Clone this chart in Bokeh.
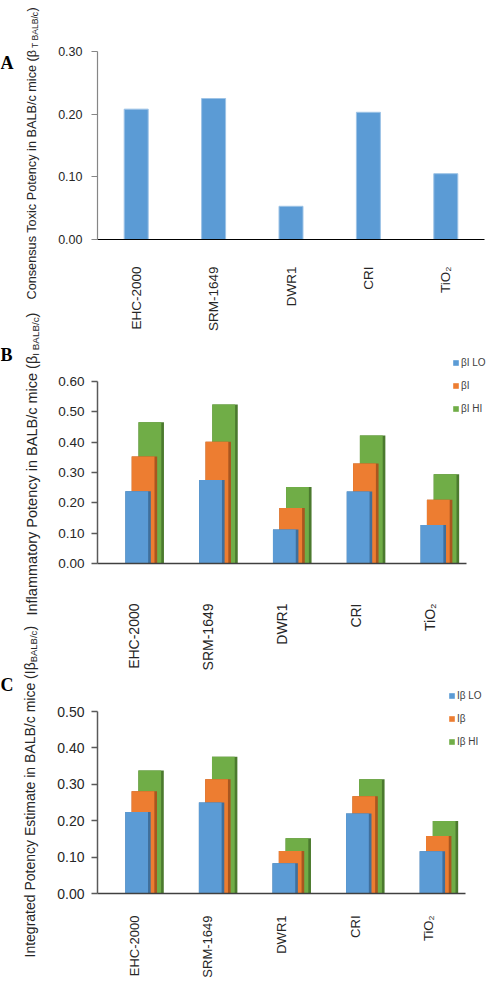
import math
from bokeh.plotting import figure
from bokeh.models import (Range1d, FactorRange, Label, Legend, LegendItem,
                          FixedTicker, NumeralTickFormatter, ColumnDataSource)
from bokeh.transform import dodge
from bokeh.layouts import column, row
from bokeh.embed import file_html
from bokeh.resources import INLINE

# ---------------- data ----------------
materials = ["EHC-2000", "SRM-1649", "DWR1", "CRI", "TiO₂"]
beta_t = [0.208, 0.225, 0.053, 0.203, 0.105]

beta_i_lo = [0.238, 0.275, 0.112, 0.237, 0.127]
beta_i = [0.353, 0.401, 0.183, 0.330, 0.210]
beta_i_hi = [0.466, 0.524, 0.252, 0.422, 0.294]

ib_lo = [0.224, 0.250, 0.083, 0.220, 0.116]
ib = [0.281, 0.314, 0.117, 0.267, 0.158]
ib_hi = [0.338, 0.376, 0.152, 0.314, 0.199]

ticks_a = [0.0, 0.1, 0.2, 0.3]
ticks_b = [0.0, 0.1, 0.2, 0.3, 0.4, 0.5, 0.6]
ticks_c = [0.0, 0.1, 0.2, 0.3, 0.4, 0.5]

legend_b = ["βI LO", "βI", "βI HI"]
legend_c = ["Iβ LO", "Iβ", "Iβ HI"]

BLUE, BLUE_D = "#5B9BD5", "#3F6F9C"
ORANGE, ORANGE_D = "#ED7D31", "#A9561F"
GREEN, GREEN_D = "#70AD47", "#4B7A2E"

FONT = "Liberation Sans"
TXT = "#262626"


def style(p, tick_size, xlab_size, standoff_x, standoff_y, axis_color, x_axis_color, ticks, lw):
    p.xgrid.visible = False
    p.ygrid.visible = False
    p.outline_line_color = None
    p.yaxis.ticker = FixedTicker(ticks=ticks)
    p.yaxis.formatter = NumeralTickFormatter(format="0.00")
    p.yaxis.axis_line_color = axis_color
    p.yaxis.axis_line_width = lw
    p.yaxis.major_tick_line_color = axis_color
    p.yaxis.major_tick_line_width = lw
    p.yaxis.major_tick_out = 6
    p.yaxis.major_tick_in = 0
    p.yaxis.minor_tick_out = 0
    p.yaxis.minor_tick_in = 0
    p.yaxis.major_label_standoff = standoff_y
    p.yaxis.major_label_text_font = FONT
    p.yaxis.major_label_text_font_size = tick_size
    p.yaxis.major_label_text_color = TXT
    p.xaxis.axis_line_color = x_axis_color
    p.xaxis.axis_line_width = lw
    p.xaxis.major_tick_out = 0
    p.xaxis.major_tick_in = 0
    p.xaxis.minor_tick_out = 0
    p.xaxis.minor_tick_in = 0
    p.xaxis.major_label_orientation = math.pi / 2
    p.xaxis.major_label_standoff = standoff_x
    p.xaxis.major_label_text_font = FONT
    p.xaxis.major_label_text_font_size = xlab_size
    p.xaxis.major_label_text_color = TXT
    p.background_fill_color = None
    p.border_fill_color = None


# ---------------- panel A ----------------
pa = figure(x_range=FactorRange(*materials), y_range=Range1d(0, 0.30),
            frame_width=387, frame_height=188,
            min_border_left=43, min_border_right=15,
            min_border_top=51, min_border_bottom=90,
            output_backend="svg", toolbar_location=None)
pa.vbar(x=materials, top=beta_t, width=0.31, fill_color=BLUE,
        line_color="#9DC3E6", line_width=1)
style(pa, "12.5px", "13.5px", 27, 9, "#868686", "#000000", ticks_a, 1.2)


# ---------------- grouped panels ----------------
def grouped(lo, mid, hi, ymax, ticks, labels,
            fl, axis_w, fw, ft, axis_h, fh, fb,
            leg_x, leg_y, tick_size, xlab_size, standoff_x):
    n = len(materials)
    centers = [i + 0.5 for i in range(n)]
    # frame is larger than the axis box (room for the legend); the axes are bounded
    p = figure(x_range=Range1d(0, n * fw / axis_w), y_range=Range1d(0, ymax * fh / axis_h),
               frame_width=fw, frame_height=fh,
               min_border_left=fl, min_border_right=0,
               min_border_top=ft, min_border_bottom=fb,
               output_backend="svg", toolbar_location=None)
    src = ColumnDataSource(dict(xc=centers, lo=lo, mid=mid, hi=hi))
    rends = {}
    for col, off, light, dark in [("hi", 0.228, GREEN, GREEN_D),
                                  ("mid", 0.136, ORANGE, ORANGE_D),
                                  ("lo", 0.050, BLUE, BLUE_D)]:
        p.vbar(x=dodge("xc", off), top=col, width=0.345,
               source=src, fill_color=dark, line_color=None)
        rends[col] = p.vbar(x=dodge("xc", off - 0.018), top=col,
                            width=0.309, source=src, fill_color=light, line_color=None)
    style(p, tick_size, xlab_size, standoff_x, 7, "#595959", "#404040", ticks, 1.5)
    p.xaxis.bounds = (0, n)
    p.yaxis.bounds = (0, ymax)
    p.xaxis.ticker = FixedTicker(ticks=centers)
    p.xaxis.major_label_overrides = {c: m for c, m in zip(centers, materials)}
    leg = Legend(items=[LegendItem(label=labels[0], renderers=[rends["lo"]]),
                        LegendItem(label=labels[1], renderers=[rends["mid"]]),
                        LegendItem(label=labels[2], renderers=[rends["hi"]])],
                 location=(leg_x, leg_y), orientation="vertical",
                 glyph_width=7, glyph_height=7, label_standoff=2,
                 label_height=15, spacing=8, padding=0, margin=0,
                 border_line_color=None, background_fill_alpha=0,
                 label_text_font=FONT, label_text_font_size="10px",
                 label_text_color="#404040")
    p.add_layout(leg)
    return p


pb = grouped(beta_i_lo, beta_i, beta_i_hi, 0.60, ticks_b, legend_b,
             51, 369, 394, 8, 182, 221, 107, 355, 146.8, "13.5px", "14px", 40)
pc = grouped(ib_lo, ib, ib_hi, 0.50, ticks_c, legend_c,
             49, 368, 396, 2, 182, 218, 83, 357, 143.8, "14px", "13px", 22)

# ---------------- left strip: titles and panel letters ----------------
TH = 976
pt = figure(width=46, height=TH, x_range=Range1d(0, 46), y_range=Range1d(0, TH),
            min_border=0, x_axis_location=None, y_axis_location=None,
            output_backend="svg", toolbar_location=None)
pt.grid.visible = False
pt.outline_line_color = None
pt.background_fill_color = None
pt.border_fill_color = None

W = {' ': 278, '(': 333, ')': 333, '/': 278, '-': 333, '.': 278,
     'A': 667, 'B': 667, 'C': 722, 'E': 667, 'I': 278, 'L': 556, 'P': 667, 'T': 611,
     'a': 556, 'c': 500, 'd': 556, 'e': 556, 'f': 278, 'g': 556, 'i': 222, 'l': 222,
     'm': 833, 'n': 556, 'o': 556, 'r': 333, 's': 500, 't': 278, 'u': 556, 'x': 500,
     'y': 500, 'β': 574}


def tw(s, size):
    return sum(W.get(ch, 556) for ch in s) / 1000.0 * size


def ytitle(main, sub, page_x, page_bottom, size):
    x = page_x - 8
    y = (TH + 8) - page_bottom
    sub_size = size * 0.68
    kw = dict(angle=90, angle_units="deg", text_align="left", text_baseline="middle",
              text_font=FONT, text_color=TXT)
    pt.add_layout(Label(x=x, y=y, text=main, text_font_size=f"{size}px", **kw))
    y2 = y + tw(main, size)
    pt.add_layout(Label(x=x + 0.26 * size, y=y2, text=sub,
                        text_font_size=f"{sub_size:.1f}px", **kw))
    y3 = y2 + tw(sub, sub_size)
    pt.add_layout(Label(x=x, y=y3, text=")", text_font_size=f"{size}px", **kw))


ytitle("Consensus Toxic Potency in BALB/c mice (β", "T BALB/c", 39, 307, 12.7)
ytitle("Inflammatory Potency in BALB/c mice (β", "I BALB/c", 39, 623, 14.5)
ytitle("Integrated Potency Estimate in BALB/c mice (Iβ", "BALB/c", 37, 965, 14)


def letter(t, page_x, page_base):
    pt.add_layout(Label(x=page_x - 8, y=(TH + 8) - page_base, text=t,
                        text_font="Liberation Serif", text_font_style="bold",
                        text_font_size="18px", text_color="#000000",
                        text_align="left", text_baseline="alphabetic"))


letter("A", 8, 70)
letter("B", 8, 362)
letter("C", 8, 692)

layout = row(pt, column(pa, pb, pc))

with open("out.html", "w") as f:
    f.write(file_html(layout, INLINE))
